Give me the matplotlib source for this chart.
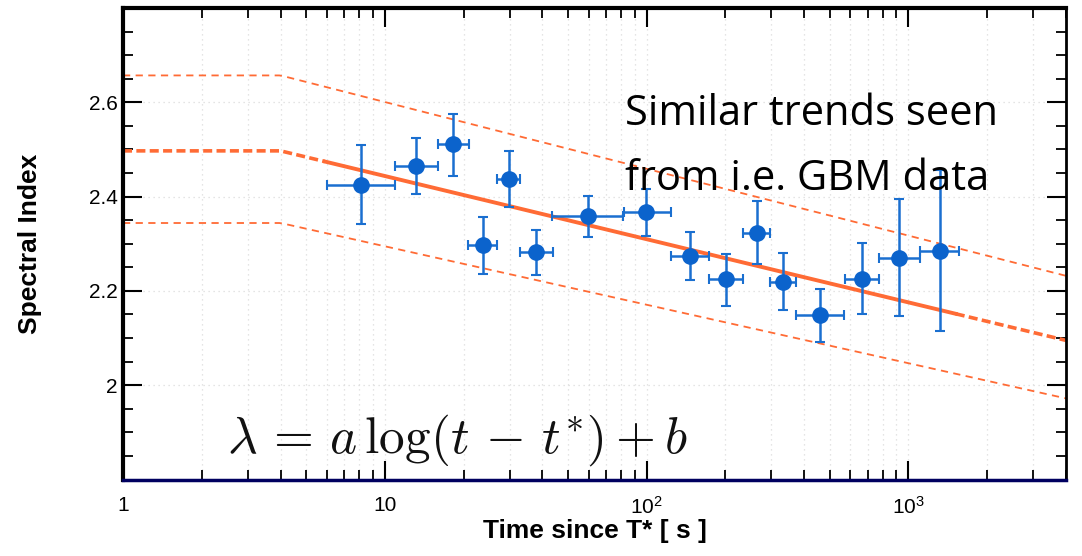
import numpy as np
import matplotlib
matplotlib.use("Agg")
import matplotlib.pyplot as plt
from matplotlib.ticker import FixedLocator, LogLocator, NullFormatter, MultipleLocator

# ---- data ----
t = [8.08, 13.2, 18.2, 29.8, 23.7, 37.9, 59.7, 99.7, 145.9, 200.2, 263.7, 333.3, 461.6, 663.7, 923.9, 1324]
t_lo = [5.99, 10.9, 16.0, 26.9, 20.8, 32.8, 43.6, 81.9, 123.5, 172.9, 233.0, 297.0, 372.5, 573.0, 770.0, 1108]
t_hi = [10.9, 16.0, 21.0, 32.9, 26.9, 43.9, 81.2, 123.5, 172.9, 233.1, 296.5, 372.5, 569.8, 770.0, 1108, 1556]
idx = [2.4255, 2.4657, 2.5117, 2.4375, 2.2967, 2.2819, 2.3583, 2.3667, 2.2734, 2.2242, 2.323, 2.2191, 2.1485, 2.2262, 2.27, 2.2849]
idx_hi = [2.510, 2.5245, 2.5754, 2.496, 2.356, 2.3286, 2.4006, 2.4163, 2.3243, 2.2778, 2.3909, 2.2806, 2.205, 2.3018, 2.3939, 2.456]
idx_lo = [2.341, 2.4057, 2.4445, 2.379, 2.2367, 2.2346, 2.3145, 2.3159, 2.224, 2.1682, 2.256, 2.1605, 2.0918, 2.15, 2.147, 2.1145]

# fit curves: flat up to a break, then linear in log(t)
t_break = 4.0
t_end = 4000.0
fit_center = [2.497, 2.095]
fit_upper = [2.657, 2.232]
fit_lower = [2.344, 1.972]
t_solid = [5.9, 1517.0]

x_ticks = [1, 10, 100, 1000]
x_ticklabels = ["1", "10", r"$\mathregular{10^{2}}$", r"$\mathregular{10^{3}}$"]
y_ticks = [2.0, 2.2, 2.4, 2.6]
y_ticklabels = ["2", "2.2", "2.4", "2.6"]

note_lines = ["Similar trends seen", "from i.e. GBM data"]
formula = r"$\lambda\,=\,a\,\log(t\,-\,t^{*})+b$"

blue = "#0b63cc"
orange = "#ff6b35"

plt.rcParams['font.family'] = ['Liberation Sans', 'DejaVu Sans']

fig = plt.figure(figsize=(10.82, 5.56), dpi=100)
ax = fig.add_axes([123/1082, 1 - 479.5/556, (1066-123)/1082, (479.5-8)/556])
ax.set_xscale('log')
ax.set_xlim(1, 4000)
ax.set_ylim(1.8, 2.8)


def curve(vals, t0, t1, n=200):
    tt = np.logspace(np.log10(t0), np.log10(t1), n)
    slope = (vals[1] - vals[0]) / (np.log10(t_end) - np.log10(t_break))
    yy = np.where(tt <= t_break, vals[0], vals[0] + slope * (np.log10(tt) - np.log10(t_break)))
    return tt, yy

# upper / lower bands
for v in (fit_upper, fit_lower):
    tt, yy = curve(v, 1, t_end)
    ax.plot(tt, yy, color=orange, lw=1.3, ls=(0, (4, 3)), zorder=2)

# center: dashed outside data range, solid inside
tt, yy = curve(fit_center, 1, t_solid[0])
ax.plot(tt, yy, color=orange, lw=2.6, ls=(0, (2.5, 1.2)), zorder=2)
tt, yy = curve(fit_center, t_solid[1], t_end)
ax.plot(tt, yy, color=orange, lw=2.6, ls=(0, (2.5, 1.2)), zorder=2)
tt, yy = curve(fit_center, t_solid[0], t_solid[1])
ax.plot(tt, yy, color=orange, lw=2.8, zorder=3)

t_a = np.array(t); y_a = np.array(idx)
xerr = [t_a - np.array(t_lo), np.array(t_hi) - t_a]
yerr = [y_a - np.array(idx_lo), np.array(idx_hi) - y_a]
ax.errorbar(t_a, y_a, xerr=xerr, yerr=yerr, fmt='o', color=blue, ms=11,
            ecolor="#1a6fd0", elinewidth=1.8, capsize=3.5, capthick=1.5, zorder=4)

# ticks
ax.xaxis.set_major_locator(FixedLocator(x_ticks))
ax.xaxis.set_minor_locator(LogLocator(base=10, subs=np.arange(2, 10)))
ax.xaxis.set_minor_formatter(NullFormatter())
ax.set_xticklabels(x_ticklabels)
ax.set_yticks(y_ticks)
ax.set_yticklabels(y_ticklabels)
ax.yaxis.set_minor_locator(MultipleLocator(0.05))
ax.tick_params(which='both', direction='in', top=True, right=True, labelsize=15, colors='black')
ax.tick_params(which='major', length=14, width=1.5)
ax.tick_params(which='minor', length=7, width=1.3)
ax.tick_params(axis='x', which='major', pad=12)
ax.tick_params(axis='y', which='major', pad=4)

ax.grid(True, which='both', axis='x', color='#dcdcdc', ls=(0, (1, 3)), lw=0.9)
ax.grid(True, which='major', axis='y', color='#dcdcdc', ls=(0, (1, 3)), lw=0.9)
ax.set_axisbelow(True)

for s in ('left', 'top'):
    ax.spines[s].set_linewidth(3)
ax.spines['right'].set_linewidth(2)
ax.spines['bottom'].set_linewidth(2.5)
ax.spines['bottom'].set_color('#000060')

ax.set_ylabel("Spectral Index", fontsize=19, fontweight='bold')
ax.yaxis.set_label_coords(-0.086, 0.5)
ax.set_xlabel("Time since T* [ s ]", fontsize=19, fontweight='bold')
ax.xaxis.set_label_coords(0.5, -0.083)

fig.text(625/1082, 1 - 125/556, note_lines[0], fontsize=30,
         family=['Open Sans', 'DejaVu Sans'], color='black', ha='left', va='baseline')
fig.text(625/1082, 1 - 190/556, note_lines[1], fontsize=30,
         family=['Open Sans', 'DejaVu Sans'], color='black', ha='left', va='baseline')
fig.text(227/1082, 1 - 453/556, formula,
         fontsize=37, math_fontfamily='cm', color='#111111', ha='left', va='baseline')

fig.savefig("out.png", dpi=100)
